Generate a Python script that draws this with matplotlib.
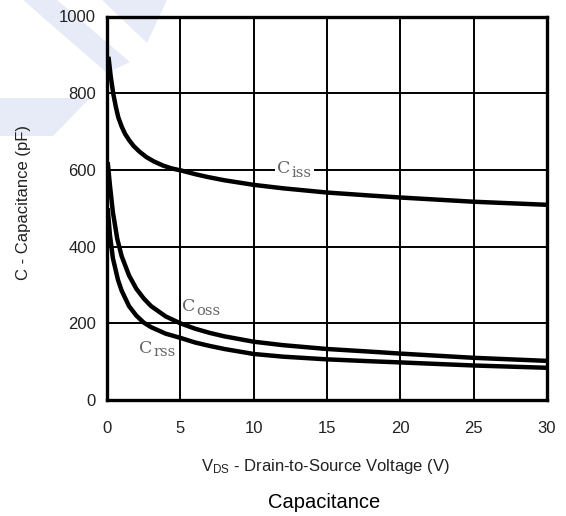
import numpy as np
import matplotlib.pyplot as plt
from matplotlib.patches import Polygon

plt.rcParams['font.family'] = ['Liberation Sans', 'DejaVu Sans']
plt.rcParams['mathtext.fontset'] = 'custom'
plt.rcParams['mathtext.rm'] = 'Liberation Sans'
plt.rcParams['mathtext.it'] = 'Liberation Sans'

# Datos (V, pF)
v_iss = [0.1, 0.25, 0.43, 0.6, 0.77, 1, 1.23, 1.5, 1.8, 2.2, 2.7, 3.2, 3.84,
         4.4, 5.1, 6, 6.8, 8, 10, 12, 15, 18, 20, 25, 30]
c_iss = [895, 845, 798, 765, 737, 713, 694, 678, 663, 648, 633, 622, 611,
         604, 598, 589, 582, 573, 561, 552, 541, 533, 528, 517, 509]

v_oss = [0.05, 0.2, 0.4, 0.7, 1, 1.5, 2, 2.5, 3, 4, 5, 6, 7, 8, 10, 12, 15,
         18, 20, 25, 30]
c_oss = [620, 560, 490, 420, 375, 325, 290, 265, 245, 218, 200, 186, 175,
         166, 152, 143, 133, 126, 121, 110, 102]

v_rss = [0.05, 0.2, 0.4, 0.75, 1, 1.5, 2, 2.5, 3, 4, 5, 6, 7, 8, 10, 12, 15,
         18, 20, 25, 30]
c_rss = [500, 430, 370, 313, 285, 245, 220, 202, 190, 173, 162, 150, 141,
         133, 120, 113, 106, 101, 98, 90, 84]

x_ticks = [0, 5, 10, 15, 20, 25, 30]
y_ticks = [0, 200, 400, 600, 800, 1000]

W, H = 566, 516
fig = plt.figure(figsize=(W / 100, H / 100), dpi=100)

# marca de agua azul clara (coordenadas en píxeles de la figura)
marcas = [
    [(23, 0), (57, 0), (130, 62), (107, 73)],
    [(102, 0), (167, 0), (147, 43)],
    [(0, 98), (90, 98), (53, 136), (0, 136)],
]
for pts in marcas:
    pts_fig = [(x / W, 1 - y / H) for x, y in pts]
    fig.patches.append(Polygon(pts_fig, closed=True, transform=fig.transFigure,
                               facecolor='#e6ebf7', edgecolor='none', zorder=-1))

ax = fig.add_axes([107 / W, 1 - 400 / H, 440 / W, 383.5 / H])
ax.set_facecolor('none')

for v, c in [(v_iss, c_iss), (v_oss, c_oss), (v_rss, c_rss)]:
    ax.plot(v, c, color='black', lw=3.2, solid_joinstyle='round',
            solid_capstyle='butt', zorder=3)

ax.set_xlim(0, 30)
ax.set_ylim(0, 1000)
ax.set_xticks(x_ticks)
ax.set_yticks(y_ticks)
ax.grid(True, color='black', lw=1.4)
ax.set_axisbelow(True)
ax.tick_params(length=0, labelsize=12, colors='#222222')
ax.tick_params(axis='x', pad=15)
ax.tick_params(axis='y', pad=8)
for s in ax.spines.values():
    s.set_linewidth(2.4)

# etiquetas de las curvas
etiq = dict(family=['DejaVu Serif'], color='#666666', zorder=4)
caja = dict(facecolor='white', edgecolor='none', pad=1.5)
ax.text(11.6, 603, 'C', fontsize=12.5, va='center', ha='left', bbox=caja, **etiq)
ax.text(12.6, 592, 'iss', fontsize=10.5, va='center', ha='left', bbox=caja, **etiq)
ax.text(5.1, 243, 'C', fontsize=12.5, va='center', ha='left', **etiq)
ax.text(6.1, 232, 'oss', fontsize=10.5, va='center', ha='left', **etiq)
ax.text(2.2, 135, 'C', fontsize=12.5, va='center', ha='left', **etiq)
ax.text(3.2, 124, 'rss', fontsize=10.5, va='center', ha='left', **etiq)

fig.text(24 / W, 1 - 203 / H, 'C - Capacitance (pF)', rotation=90,
         ha='center', va='center', fontsize=12, color='#222222')
fig.text(325 / W, 1 - 467 / H, r'V$_{\mathrm{DS}}$ - Drain-to-Source Voltage (V)',
         ha='center', va='center', fontsize=12, color='#222222')
fig.text(324 / W, 1 - 502 / H, 'Capacitance', ha='center', va='center',
         fontsize=14.5, color='black')

plt.savefig('out.png', dpi=100)
